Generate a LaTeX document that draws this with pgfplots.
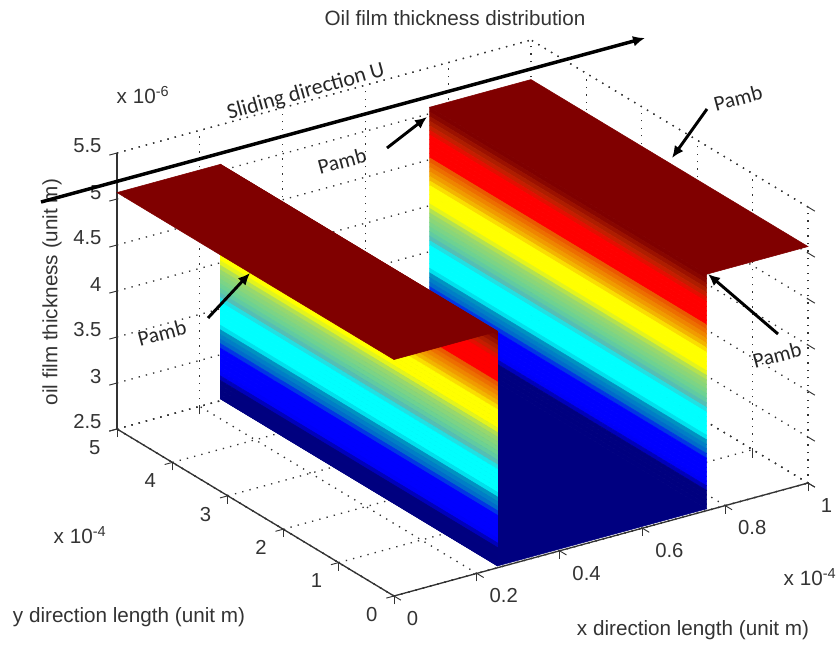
\documentclass[border=0pt]{standalone}
\usepackage{pgfplots}
\usepackage{pgfplotstable}
\pgfplotsset{compat=1.18}
\usepackage{fontspec}
\setmainfont{Liberation Sans}
\newfontfamily\callig{Carlito}
\usetikzlibrary{arrows.meta}
\pgfplotstableread{
xa xb y z
0.25 0.755 0 2.52
0.25 0.755 5 2.52
0.25 0.755 0 2.57
0.25 0.755 5 2.57
0.25 0.755 0 2.62
0.25 0.755 5 2.62
0.25 0.755 0 2.67
0.25 0.755 5 2.67
0.25 0.755 0 2.72
0.25 0.755 5 2.72
0.25 0.755 0 2.77
0.25 0.755 5 2.77
0.25 0.755 0 2.82
0.25 0.755 5 2.82
0.25 0.755 0 2.87
0.25 0.755 5 2.87
0.25 0.755 0 2.92
0.25 0.755 5 2.92
0.25 0.755 0 2.97
0.25 0.755 5 2.97
0.25 0.755 0 3.02
0.25 0.755 5 3.02
0.25 0.755 0 3.07
0.25 0.755 5 3.07
0.25 0.755 0 3.12
0.25 0.755 5 3.12
0.25 0.755 0 3.17
0.25 0.755 5 3.17
0.25 0.755 0 3.22
0.25 0.755 5 3.22
0.25 0.755 0 3.27
0.25 0.755 5 3.27
0.25 0.755 0 3.32
0.25 0.755 5 3.32
0.25 0.755 0 3.37
0.25 0.755 5 3.37
0.25 0.755 0 3.42
0.25 0.755 5 3.42
0.25 0.755 0 3.47
0.25 0.755 5 3.47
0.25 0.755 0 3.52
0.25 0.755 5 3.52
0.25 0.755 0 3.57
0.25 0.755 5 3.57
0.25 0.755 0 3.62
0.25 0.755 5 3.62
0.25 0.755 0 3.67
0.25 0.755 5 3.67
0.25 0.755 0 3.72
0.25 0.755 5 3.72
0.25 0.755 0 3.77
0.25 0.755 5 3.77
0.25 0.755 0 3.82
0.25 0.755 5 3.82
0.25 0.755 0 3.87
0.25 0.755 5 3.87
0.25 0.755 0 3.92
0.25 0.755 5 3.92
0.25 0.755 0 3.97
0.25 0.755 5 3.97
0.25 0.755 0 4.02
0.25 0.755 5 4.02
0.25 0.755 0 4.07
0.25 0.755 5 4.07
0.25 0.755 0 4.12
0.25 0.755 5 4.12
0.25 0.755 0 4.17
0.25 0.755 5 4.17
0.25 0.755 0 4.22
0.25 0.755 5 4.22
0.25 0.755 0 4.27
0.25 0.755 5 4.27
0.25 0.755 0 4.32
0.25 0.755 5 4.32
0.25 0.755 0 4.37
0.25 0.755 5 4.37
0.25 0.755 0 4.42
0.25 0.755 5 4.42
0.25 0.755 0 4.47
0.25 0.755 5 4.47
0.25 0.755 0 4.52
0.25 0.755 5 4.52
0.25 0.755 0 4.57
0.25 0.755 5 4.57
0.25 0.755 0 4.62
0.25 0.755 5 4.62
0.25 0.755 0 4.67
0.25 0.755 5 4.67
0.25 0.755 0 4.72
0.25 0.755 5 4.72
0.25 0.755 0 4.77
0.25 0.755 5 4.77
0.25 0.755 0 4.82
0.25 0.755 5 4.82
0.25 0.755 0 4.87
0.25 0.755 5 4.87
0.25 0.755 0 4.92
0.25 0.755 5 4.92
0.25 0.755 0 4.97
0.25 0.755 5 4.97
0.25 0.755 0 5.02
0.25 0.755 5 5.02
0.25 0.755 0 5.07
0.25 0.755 5 5.07
}\walls
\pgfplotsset{colormap={film}{
rgb(0pt)=(0,0,.5); rgb(7pt)=(0,0,.5); rgb(11pt)=(0,0,1); rgb(21pt)=(0,0,1);
rgb(24pt)=(0,.4,.8); rgb(29pt)=(0,.6,.75); rgb(31pt)=(0,1,1); rgb(41.5pt)=(0,1,1);
rgb(43pt)=(.3,.72,.75); rgb(47pt)=(.4,.82,.6); rgb(55pt)=(.62,.85,.4); rgb(59pt)=(1,1,0);
rgb(66pt)=(1,1,0); rgb(70pt)=(.95,.68,0); rgb(78pt)=(.92,.32,0); rgb(79pt)=(1,0,0);
rgb(87.5pt)=(1,0,0); rgb(92pt)=(.72,.14,0); rgb(98pt)=(.5,0,0); rgb(100pt)=(.5,0,0)}}
\definecolor{txt}{gray}{0.2}
\begin{document}
\begin{tikzpicture}
\useasboundingbox (0pt,0pt) rectangle (628.5pt,483pt);
\begin{axis}[
  at={(295.5pt,36pt)}, anchor=origin,
  x={(310.5pt,84.75pt)}, y={(-41.55pt,25.05pt)}, z={(0pt,69pt)},
  xmin=0,xmax=1,ymin=0,ymax=5,zmin=2.5,zmax=5.5,
  xtick={0,0.2,0.4,0.6,0.8,1}, xticklabels={0,0.2,0.4,0.6,0.8,1},
  ytick={0,1,2,3,4,5}, yticklabels={0,1,2,3,4,5},
  ztick={2.5,3,3.5,4,4.5,5,5.5}, zticklabels={2.5,3,3.5,4,4.5,5,5.5},
  grid=major,
  grid style={gray!40!black, line width=1pt, dash pattern=on 1pt off 4.6pt},
  axis line style={gray!40!black, line width=1pt, dash pattern=on 1pt off 4.6pt},
  tick style={black!80, line width=0.7pt},
  tick align=outside, major tick length=6pt,
  tick pos=left,
  ticklabel style={font=\fontsize{15.2}{17}\selectfont, text=txt},
  xticklabel style={anchor=west,xshift=1pt,yshift=-13.7pt},
  yticklabel style={xshift=-3.75pt,yshift=-3pt},
  zticklabel style={xshift=-3pt,yshift=0.5pt},
  clip=false,
  colormap name=film,
  point meta min=2.52, point meta max=5.07,
]
\addplot3[black!80,line width=1pt,no marks] coordinates {(0,0,2.5)(1,0,2.5)};
\addplot3[black!80,line width=1pt,no marks] coordinates {(0,0,2.5)(0,5,2.5)};
\addplot3[black!80,line width=1pt,no marks] coordinates {(0,5,2.5)(0,5,5.5)};
% wall at x=0.755
\addplot3[surf,shader=flat,mesh/cols=2,point meta=z] table[x=xb,y=y,z=z] {\walls};
% pocket floor
\addplot3[surf,shader=flat,mesh/cols=2,point meta=z] table[row sep=\\] {x y z\\ 0.25 0 2.52\\ 0.25 5 2.52\\ 0.755 0 2.52\\ 0.755 5 2.52\\};
% right land
\addplot3[surf,shader=flat,mesh/cols=2,point meta=z] table[row sep=\\] {x y z\\ 0.755 0 5.07\\ 0.755 5 5.07\\ 1 0 5.07\\ 1 5 5.07\\};
% wall at x=0.25
\addplot3[surf,shader=flat,mesh/cols=2,point meta=z] table[x=xa,y=y,z=z] {\walls};
% left land
\addplot3[surf,shader=flat,mesh/cols=2,point meta=z] table[row sep=\\] {x y z\\ 0 0 5.07\\ 0 5 5.07\\ 0.25 0 5.07\\ 0.25 5 5.07\\};
\end{axis}
\begin{scope}[x=0.75pt,y=-0.75pt,shift={(0pt,483pt)}]
\tikzset{lab/.style={font=\fontsize{15.5}{17}\selectfont,text=txt,inner sep=0pt},
 ann/.style={font=\callig\fontsize{16}{18}\selectfont,text=black!85,inner sep=0pt,rotate=15},
 arr/.style={black,line width=2.2pt,-{Latex[length=9pt,width=8pt]}}}
\node[lab] at (455,18) {Oil film thickness distribution};
\node[lab] at (143,95) {x 10\textsuperscript{-6}};
\node[lab] at (80,535) {x 10\textsuperscript{-4}};
\node[lab] at (810,577) {x 10\textsuperscript{-4}};
\node[lab] at (129,617) {y direction length (unit m)};
\node[lab] at (693,630) {x direction length (unit m)};
\node[lab,rotate=90] at (52,292) {oil film thickness (unit m)};
\node[ann,rotate=0.7,font=\callig\fontsize{16.5}{18}\selectfont] at (306,92) {Sliding direction U};
\node[ann] at (162,333) {Pamb};
\node[ann] at (342,161) {Pamb};
\node[ann] at (738,98) {Pamb};
\node[ann] at (777,355) {Pamb};
\draw[arr,line width=2.6pt] (41,202) -- (645,38);
\draw[arr] (208,318) -- (250,273);
\draw[arr] (387,148) -- (427,117);
\draw[arr] (707,109) -- (672,158);
\draw[arr] (778,334) -- (708,274);
\end{scope}
\end{tikzpicture}
\end{document}
